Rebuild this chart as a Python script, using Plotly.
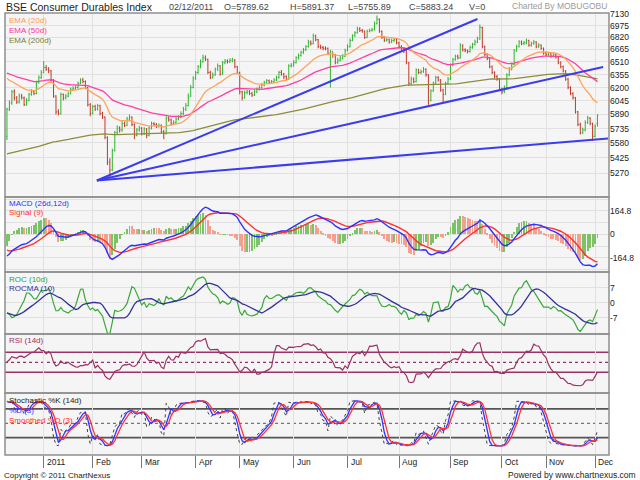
import numpy as np
import pandas as pd
import plotly.graph_objects as go
from plotly.subplots import make_subplots

# ---------------- data ----------------
holidays = ["2011-01-26", "2011-03-02", "2011-04-12", "2011-04-14", "2011-04-22",
            "2011-08-15", "2011-08-31", "2011-09-01", "2011-10-06", "2011-10-26",
            "2011-10-27", "2011-11-07", "2011-11-10"]
dates = [d for d in pd.bdate_range("2010-12-13", "2011-12-02")
         if d.strftime("%Y-%m-%d") not in holidays]

closes = [
    5950, 6020, 6150, 6080, 6030, 6100, 6080, 6000, 6050, 6120,
    6150, 6130, 6260, 6320, 6380, 6440, 6420, 6400, 6290, 6100,
    5920, 5900, 6120, 6080, 6100, 6130, 6180, 6190, 6200, 6250,
    6290, 6270, 6200, 6000, 5900, 5980, 5950, 5990, 5900, 5860,
    5640, 5380, 5300, 5500, 5690, 5740, 5720, 5790, 5770, 5840,
    5860, 5780, 5660, 5720, 5740, 5680, 5730, 5660, 5740, 5790,
    5780, 5760, 5770, 5700, 5680, 5850, 5830, 5790, 5800, 5840,
    5860, 5900, 5950, 5990, 6100, 6200, 6310, 6380, 6450, 6510,
    6560, 6540, 6380, 6320, 6350, 6420, 6460, 6360, 6500, 6520,
    6510, 6530, 6530, 6450, 6380, 6150, 6080, 6140, 6150, 6130,
    6110, 6150, 6180, 6200, 6230, 6260, 6280, 6260, 6270, 6290,
    6320, 6380, 6360, 6330, 6300, 6460, 6470, 6500, 6560, 6590,
    6630, 6660, 6700, 6760, 6740, 6840, 6790, 6700, 6690, 6680,
    6680, 6620, 6640, 6600, 6500, 6530, 6560, 6580, 6650, 6700,
    6780, 6840, 6880, 6930, 6910, 6900, 6820, 6900, 6910, 6920,
    7000, 7060, 6900, 6820, 6780, 6790, 6760, 6780, 6790, 6750,
    6700, 6680, 6650, 6500, 6250, 6300, 6270, 6410, 6380, 6390,
    6420, 6350, 6050, 6160, 6250, 6320, 6290, 6170, 6120, 6250,
    6300, 6470, 6540, 6580, 6560, 6720, 6660, 6650, 6640, 6690,
    6730, 6760, 6800, 6950, 6700, 6600, 6550, 6450, 6380, 6330,
    6300, 6180, 6150, 6200, 6350, 6420, 6480, 6650, 6700, 6760,
    6740, 6750, 6780, 6720, 6740, 6760, 6700, 6720, 6680, 6620,
    6600, 6610, 6580, 6600, 6570, 6500, 6450, 6400, 6300, 6200,
    6130, 6080, 5920, 5780, 5690, 5720, 5800, 5850, 5790, 5650,
    5760, 5883.24]

highs = [
    5965, 6050, 6170, 6180, 6100, 6130, 6125, 6095, 6075, 6140,
    6180, 6170, 6280, 6345, 6410, 6520, 6470, 6445, 6410, 6300,
    6110, 5950, 6140, 6130, 6125, 6150, 6200, 6215, 6225, 6270,
    6310, 6315, 6285, 6210, 6020, 6000, 6000, 6010, 6000, 5920,
    5870, 5650, 5420, 5520, 5710, 5770, 5760, 5820, 5810, 5865,
    5890, 5870, 5790, 5740, 5765, 5750, 5750, 5740, 5760, 5810,
    5805, 5795, 5790, 5780, 5720, 5870, 5870, 5845, 5825, 5860,
    5880, 5925, 5975, 6020, 6130, 6230, 6335, 6400, 6470, 6540,
    6600, 6590, 6550, 6400, 6380, 6440, 6490, 6470, 6520, 6545,
    6540, 6555, 6560, 6545, 6460, 6390, 6160, 6165, 6175, 6170,
    6150, 6175, 6200, 6225, 6255, 6280, 6300, 6295, 6290, 6310,
    6340, 6400, 6410, 6375, 6345, 6480, 6495, 6530, 6580, 6615,
    6650, 6685, 6720, 6790, 6780, 6870, 6855, 6800, 6725, 6710,
    6705, 6690, 6660, 6630, 6610, 6560, 6585, 6605, 6675, 6730,
    6805, 6860, 6900, 6960, 6955, 6930, 6910, 6920, 6935, 6945,
    7030, 7110, 7070, 6910, 6835, 6815, 6805, 6805, 6810, 6800,
    6765, 6720, 6695, 6660, 6510, 6330, 6320, 6430, 6425, 6415,
    6445, 6430, 6360, 6180, 6270, 6340, 6335, 6300, 6185, 6270,
    6325, 6490, 6560, 6600, 6600, 6745, 6730, 6680, 6665, 6715,
    6750, 6790, 6830, 6990, 6960, 6715, 6620, 6560, 6465, 6395,
    6350, 6310, 6200, 6225, 6370, 6445, 6500, 6670, 6725, 6785,
    6780, 6775, 6805, 6790, 6765, 6785, 6770, 6745, 6730, 6690,
    6640, 6635, 6625, 6625, 6615, 6580, 6515, 6465, 6410, 6315,
    6215, 6145, 6090, 5930, 5800, 5745, 5825, 5875, 5860, 5800,
    5780, 5891.37]

lows = [
    5610, 5930, 6000, 6050, 6010, 6015, 6060, 5985, 5990, 6040,
    6105, 6110, 6120, 6245, 6300, 6370, 6400, 6370, 6270, 6080,
    5890, 5880, 5890, 6050, 6060, 6085, 6120, 6160, 6170, 6185,
    6240, 6250, 6180, 5980, 5870, 5890, 5930, 5935, 5880, 5840,
    5620, 5350, 5230, 5290, 5490, 5670, 5690, 5700, 5750, 5760,
    5820, 5760, 5620, 5650, 5700, 5660, 5665, 5630, 5650, 5725,
    5760, 5740, 5745, 5680, 5620, 5670, 5810, 5770, 5775, 5785,
    5825, 5845, 5885, 5930, 5980, 6090, 6190, 6290, 6360, 6430,
    6500, 6520, 6360, 6300, 6305, 6340, 6400, 6340, 6350, 6480,
    6490, 6495, 6505, 6430, 6360, 6120, 6050, 6070, 6120, 6110,
    6090, 6100, 6135, 6165, 6185, 6215, 6245, 6240, 6245, 6255,
    6275, 6305, 6340, 6300, 6280, 6290, 6440, 6450, 6490, 6540,
    6575, 6610, 6645, 6690, 6715, 6730, 6770, 6680, 6670, 6655,
    6655, 6600, 6200, 6560, 6480, 6485, 6515, 6540, 6570, 6640,
    6690, 6770, 6825, 6870, 6890, 6880, 6800, 6810, 6885, 6895,
    6910, 6990, 6880, 6800, 6760, 6765, 6740, 6745, 6760, 6730,
    6680, 6660, 6620, 6480, 6220, 6230, 6250, 6260, 6360, 6360,
    6375, 6330, 6000, 6040, 6150, 6235, 6270, 6150, 6030, 6110,
    6235, 6290, 6455, 6525, 6540, 6550, 6640, 6630, 6615, 6625,
    6675, 6715, 6745, 6790, 6680, 6580, 6530, 6430, 6360, 6310,
    6280, 6160, 6120, 6135, 6190, 6335, 6405, 6470, 6635, 6690,
    6720, 6720, 6730, 6700, 6700, 6725, 6680, 6685, 6660, 6600,
    6580, 6585, 6560, 6565, 6550, 6480, 6430, 6380, 6280, 6180,
    6110, 6060, 5900, 5760, 5670, 5675, 5705, 5785, 5770, 5600,
    5640, 5755.89]

first_open = 5650
last_open = 5789.62
last_volume = 0

# indicator starting levels
ema_seeds = {20: 6350, 50: 6390, 200: 5460}
ema12_seed, ema26_seed, signal_seed = 6000, 6160, -100
roc_head = [-4.8, -5.5, -7.0, -6.5, -5.5, -3.5, -1.5, 1.0, 4.5, 4.5]
rsi_gain_seed, rsi_loss_seed = 18.0, 40.0

# user-drawn trend lines: (bar position, price)
trend_origin = (36.7, 5195)
trend_ends = [(192.0, 7063), (243.3, 6447), (245.3, 5627)]

price_ticks = [7130, 6975, 6820, 6665, 6510, 6355, 6200, 6045, 5890, 5735, 5580, 5425, 5270]
macd_ticks = [164.8, 0, -164.8]
roc_ticks = [7, 0, -7]
rsi_levels = [70, 50, 30]
stoch_levels = [80, 50, 20]
month_names = ["2011", "Feb", "Mar", "Apr", "May", "Jun", "Jul", "Aug", "Sep", "Oct", "Nov", "Dec"]

# ---------------- computations ----------------
n = min(len(dates), len(closes), len(highs), len(lows))
dates = dates[:n]
c = np.array(closes[:n], float)
hi = np.array(highs[:n], float)
lo = np.array(lows[:n], float)
op = np.concatenate([[first_open], c[:-1]])
op[-1] = last_open
idx = np.arange(n)


def ema(x, span, seed):
    a = 2.0 / (span + 1)
    out = np.empty(len(x))
    prev = seed
    for i, v in enumerate(x):
        prev = prev + a * (v - prev)
        out[i] = prev
    return out


ema20 = ema(c, 20, ema_seeds[20])
ema50 = ema(c, 50, ema_seeds[50])
ema200 = ema(c, 200, ema_seeds[200])

macd = ema(c, 12, ema12_seed) - ema(c, 26, ema26_seed)
signal = ema(macd, 9, signal_seed)
hist_scale = 2.0
hist = (macd - signal) * hist_scale
hist_col = ["#7cc266" if (i == 0 or hist[i] >= hist[i - 1]) else "#f3a08e" for i in range(n)]

roc = np.empty(n)
for i in range(n):
    roc[i] = roc_head[i] if i < 10 else (c[i] / c[i - 10] - 1) * 100
rocma = pd.Series(roc).rolling(10, min_periods=1).mean().values

# RSI with simple 14-day averages of gains and losses (seeded at the left edge)
chg = np.diff(np.concatenate([[op[0]], c]))
gains = np.concatenate([[rsi_gain_seed] * 13, np.clip(chg, 0, None)])
losses = np.concatenate([[rsi_loss_seed] * 13, np.clip(-chg, 0, None)])
avg_g = pd.Series(gains).rolling(14).mean().values[13:]
avg_l = pd.Series(losses).rolling(14).mean().values[13:]
rsi = 100 - 100 / (1 + avg_g / np.maximum(avg_l, 1e-9))

hh = pd.Series(hi).rolling(14, min_periods=1).max().values
ll = pd.Series(lo).rolling(14, min_periods=1).min().values
k = (c - ll) / (hh - ll) * 100
d = pd.Series(k).rolling(3, min_periods=1).mean().values
sd = pd.Series(d).rolling(3, min_periods=1).mean().values

month_idx = []
seen = set()
for i, dt in enumerate(dates):
    key = (dt.year, dt.month)
    if dt.year == 2011 and key not in seen:
        seen.add(key)
        month_idx.append(i)

# ---------------- layout helpers ----------------
W, H = 640, 480
ML, MR, MT, MB = 5, 31, 13, 25
PW, PH = W - ML - MR, H - MT - MB


def px(x):
    return (x - ML) / PW


def py(y):
    return (H - MB - y) / PH


FONT = "Liberation Sans, Arial, sans-serif"
panels = [(13, 197), (197, 272), (272, 334), (334, 393), (393, 455)]

fig = make_subplots(rows=5, cols=1, shared_xaxes=True, vertical_spacing=0)

# main panel
fig.add_trace(go.Ohlc(x=idx, open=op, high=hi, low=lo, close=c,
                      increasing=dict(line=dict(color="#2fb52f", width=1)),
                      decreasing=dict(line=dict(color="#c0392b", width=1)),
                      tickwidth=0.35, hoverinfo="skip"), row=1, col=1)
for series, col in [(ema200, "#8c8c3c"), (ema50, "#ff3fa0"), (ema20, "#ffa35c")]:
    fig.add_trace(go.Scatter(x=idx, y=series, mode="lines",
                             line=dict(color=col, width=1.3), hoverinfo="skip"), row=1, col=1)
for ex, ep in trend_ends:
    fig.add_trace(go.Scatter(x=[trend_origin[0], ex], y=[trend_origin[1], ep], mode="lines",
                             line=dict(color="#3b3bf0", width=2), hoverinfo="skip"), row=1, col=1)

# MACD
fig.add_trace(go.Bar(x=idx, y=hist, marker=dict(color=hist_col, line=dict(width=0)),
                     width=0.35, hoverinfo="skip"), row=2, col=1)
fig.add_trace(go.Scatter(x=idx, y=signal, mode="lines", line=dict(color="#ff3030", width=1.4),
                         hoverinfo="skip"), row=2, col=1)
fig.add_trace(go.Scatter(x=idx, y=macd, mode="lines", line=dict(color="#3030ff", width=1.4),
                         hoverinfo="skip"), row=2, col=1)

# ROC
fig.add_trace(go.Scatter(x=idx, y=roc, mode="lines", line=dict(color="#3aa83a", width=1.2),
                         hoverinfo="skip"), row=3, col=1)
fig.add_trace(go.Scatter(x=idx, y=rocma, mode="lines", line=dict(color="#33339a", width=1.3),
                         hoverinfo="skip"), row=3, col=1)

# RSI
fig.add_trace(go.Scatter(x=idx, y=rsi, mode="lines", line=dict(color="#993366", width=1.2),
                         hoverinfo="skip"), row=4, col=1)

# Stochastic
fig.add_trace(go.Scatter(x=idx, y=k, mode="lines", line=dict(color="#444444", width=1, dash="dot"),
                         hoverinfo="skip"), row=5, col=1)
fig.add_trace(go.Scatter(x=idx, y=d, mode="lines", line=dict(color="#3333ff", width=1.3),
                         hoverinfo="skip"), row=5, col=1)
fig.add_trace(go.Scatter(x=idx, y=sd, mode="lines", line=dict(color="#ff3333", width=1.3),
                         hoverinfo="skip"), row=5, col=1)

# axes
xr = [-0.8, 245.7]
for r in range(1, 6):
    fig.update_xaxes(row=r, col=1, range=xr, tickvals=month_idx, showticklabels=False,
                     showgrid=True, gridcolor="#e1e1e1", gridwidth=1, zeroline=False,
                     rangeslider_visible=False, ticks="", showline=False)
fig.update_xaxes(row=5, col=1, ticks="outside", ticklen=12, tickcolor="#777777", tickwidth=1)

ytick_font = dict(family=FONT, size=8.5, color="#222222")
common_y = dict(side="right", showgrid=True, gridcolor="#e1e1e1", zeroline=False, ticks="",
                showline=False, tickfont=ytick_font)
fig.update_yaxes(row=1, col=1, type="log", range=[np.log10(5035), np.log10(7143.6)],
                 tickvals=price_ticks, ticktext=[str(v) for v in price_ticks], **common_y)
macd_grid = [247.2, 164.8, 82.4, 0, -82.4, -164.8, -247.2]
fig.update_yaxes(row=2, col=1, range=[-264.4, 261.6], tickvals=macd_grid,
                 ticktext=[(("%g" % v) if v in macd_ticks else "") for v in macd_grid], **common_y)
fig.update_yaxes(row=3, col=1, range=[-14.6, 14.3], tickvals=roc_ticks,
                 ticktext=[str(v) for v in roc_ticks], **common_y)
fig.update_yaxes(row=4, col=1, range=[-11.4, 106.6], showticklabels=False, showgrid=False,
                 zeroline=False, ticks="", side="right")
fig.update_yaxes(row=5, col=1, range=[-16.3, 113.4], showticklabels=False, showgrid=False,
                 zeroline=False, ticks="", side="right")

doms = {}
for r, (t, b) in enumerate(panels, start=1):
    key = "yaxis" if r == 1 else "yaxis%d" % r
    doms[key] = dict(domain=[py(b), py(t)])
fig.update_layout(**doms)

shapes = []
# reference levels for RSI and stochastic panels
for lvl in rsi_levels:
    solid = lvl != 50
    shapes.append(dict(type="line", xref="x4 domain", yref="y4", x0=0, x1=1, y0=lvl, y1=lvl,
                       line=dict(color="#993366", width=1.5 if solid else 1.2,
                                 dash="solid" if solid else "dot"), layer="below"))
for lvl in stoch_levels:
    solid = lvl != 50
    shapes.append(dict(type="line", xref="x5 domain", yref="y5", x0=0, x1=1, y0=lvl, y1=lvl,
                       line=dict(color="#555555", width=1.8 if solid else 1,
                                 dash="solid" if solid else "dot"), layer="below"))
for (t, b) in panels:
    shapes.append(dict(type="rect", xref="paper", yref="paper", x0=0, x1=1, y0=py(b), y1=py(t),
                       line=dict(color="#8f8f8f", width=1.5), fillcolor="rgba(0,0,0,0)", layer="above"))

ann = []


def text(x, y, s, size=8, color="#222222", anchor="left"):
    ann.append(dict(xref="paper", yref="paper", x=px(x), y=py(y), text=s, showarrow=False,
                    xanchor=anchor, yanchor="middle", font=dict(family=FONT, size=size, color=color)))


# header
text(4, 6.5, "BSE Consumer Durables Index", 10.5, "#222222")
hdr = [(167, dates[-1].strftime("%d/%m/%Y")),
       (222, "O=%.2f" % op[-1]), (288, "H=%.2f" % hi[-1]), (346, "L=%.2f" % lo[-1]),
       (407, "C=%.2f" % c[-1]), (467, "V=%d" % last_volume)]
for x, s in hdr:
    text(x, 6.5, s, 9, "#444444")
text(609, 6, "Charted By MOBUGOBU", 8.5, "#9a9a9a", anchor="right")

# panel legends
for y, s, col in [(20.7, "EMA (20d)", "#ff9a4d"), (30.3, "EMA (50d)", "#ff3399"),
                  (40.0, "EMA (200d)", "#7d7d2a"),
                  (203.5, "MACD (26d,12d)", "#3333ff"), (213.0, "Signal (9)", "#ff3333"),
                  (279.0, "ROC (10d)", "#33a033"), (288.7, "ROCMA (10)", "#333399"),
                  (340.0, "RSI (14d)", "#993366"),
                  (400.5, "Stochastic %K (14d)", "#222222"), (410.0, "%D (3)", "#3333ff"),
                  (420.0, "Smoothed %D (3)", "#ff3333")]:
    text(7, y, s, 8, col)

# month labels
for i, name in zip(month_idx, month_names):
    ann.append(dict(xref="x5", yref="paper", x=i + 0.4, y=py(462), text=name, showarrow=False,
                    xanchor="left", yanchor="middle", font=dict(family=FONT, size=8.5, color="#222222")))

# footer
text(2, 475, "Copyright © 2011 ChartNexus", 8, "#222222")
text(638, 475, "Powered by www.chartnexus.com", 8.5, "#222222", anchor="right")

fig.update_layout(width=W, height=H, margin=dict(l=ML, r=MR, t=MT, b=MB, pad=0),
                  paper_bgcolor="white", plot_bgcolor="#f5f5f5", showlegend=False,
                  bargap=0, shapes=shapes, annotations=ann,
                  font=dict(family=FONT, size=8))

fig.write_html("out.html")
